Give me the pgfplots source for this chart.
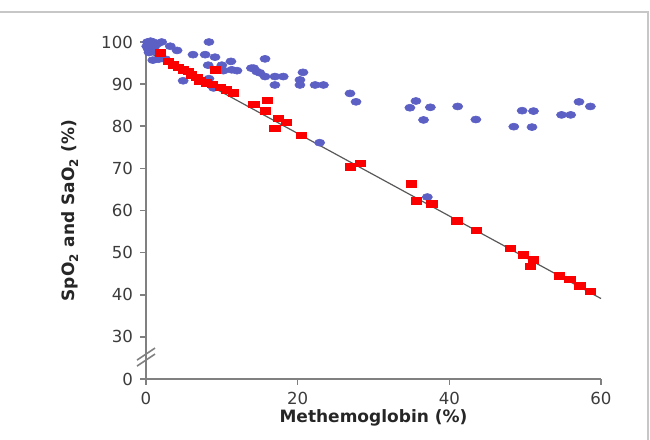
\documentclass[border=0pt]{standalone}
\usepackage{fontspec}
\setmainfont{DejaVu Sans}
\usepackage{pgfplots}
\pgfplotsset{compat=1.18}
\definecolor{dotblue}{RGB}{92,96,196}
\definecolor{sqred}{RGB}{250,0,0}
\definecolor{axgray}{RGB}{128,128,128}
\definecolor{ticktext}{RGB}{60,60,60}

% measured values: SpO2 (pulse oximetry) and SaO2 (co-oximetry) vs methemoglobin
\pgfplotstableread{
x y
0.2 100
0.5 99.2
0.9 100
0.3 98.3
1.0 98.8
1.5 99.6
0.7 97.8
1.3 97.7
0.1 99.0
0.6 100.2
1.2 99.1
0.4 97.5
0.9 95.7
1.6 95.9
2.6 95.9
2.07 100
3.2 99
4.1 98
4.9 90.8
6.2 97
7.8 97
8.3 100
9.1 96.4
8.2 94.5
10.0 94.5
11.2 95.4
11.3 93.4
10.2 93.2
12.0 93.2
13.9 93.8
14.6 93.0
8.3 91.3
8.9 89.1
15.7 96.0
14.2 93.8
15.0 92.7
15.7 91.8
17.0 91.8
18.1 91.8
17.0 89.8
20.7 92.8
20.3 91.0
20.3 89.8
22.3 89.8
23.4 89.8
26.9 87.8
27.7 85.8
22.9 76.1
35.6 86.0
34.8 84.4
37.5 84.5
36.6 81.5
41.1 84.7
43.5 81.6
49.6 83.7
51.1 83.6
48.5 79.9
50.9 79.8
54.8 82.7
56.0 82.7
57.1 85.8
58.6 84.7
37.1 63.2
}\spo

\pgfplotstableread{
x y
1.85 97.4
2.9 95.4
3.6 94.6
4.3 94.0
4.9 93.4
5.6 93.0
6.0 92.2
6.7 91.6
7.1 90.8
8.0 90.3
8.7 89.9
9.8 89.2
10.6 88.7
11.5 87.9
9.1 93.4
14.2 85.2
16.0 86.2
15.7 83.7
17.4 81.9
18.5 80.9
17.0 79.5
20.5 77.9
26.9 70.4
28.3 71.2
35.0 66.3
35.6 62.3
37.7 61.6
41.0 57.6
43.6 55.3
48.0 51.0
49.8 49.5
51.1 48.3
50.7 46.8
54.5 44.5
55.9 43.7
57.2 42.1
58.6 40.8
}\sao

\begin{document}
\begin{tikzpicture}
\useasboundingbox (-73pt,-30.5pt) rectangle (252pt,189.5pt);
\draw[black!22, line width=0.6pt] (-73pt,183.5pt) -- (251pt,183.5pt) -- (251pt,-30.5pt);
\begin{axis}[
  at={(0,0)}, anchor=south west,
  width=227.5pt, height=168.5pt, scale only axis,
  xmin=0, xmax=60, ymin=0, ymax=80,
  clip=false,
  y filter/.expression={y-20},
  axis lines=left,
  axis line style={axgray, line width=0.8pt, -},
  tick style={axgray, line width=0.8pt},
  tick align=outside, major tick length=3pt,
  xtick={0,20,40,60}, xticklabels={0,20,40,60},
  ytick={0,10,20,30,40,50,60,70,80},
  yticklabels={0,30,40,50,60,70,80,90,100},
  ticklabel style={font=\fontsize{8.3}{10}\selectfont, text=ticktext},
  every axis x label/.style={at={(axis description cs:0.5,-0.116)}, anchor=center},
  every axis y label/.style={at={(axis description cs:-0.167,0.5)}, anchor=center, rotate=90},
  label style={font=\fontsize{8.5}{10}\selectfont\bfseries, text=black!85},
  xlabel={Methemoglobin (\%)},
  ylabel={SpO\textsubscript{2} and SaO\textsubscript{2} (\%)},
]
\addplot[black!65, line width=0.6pt] coordinates {(0,97.9) (60,39.1)};
\addplot[only marks, color=dotblue, mark=*, mark size=1.75pt,
  mark options={xscale=1.45, draw=dotblue, fill=dotblue, line width=0.3pt}] table[x=x, y=y] {\spo};
\addplot[only marks, color=sqred, mark=square*, mark size=1.6pt,
  mark options={xscale=1.6, draw=sqred, fill=sqred, line width=0.3pt}] table[x=x, y=y] {\sao};
% axis break marks
\draw[axgray, line width=0.8pt] ([xshift=-4.5pt, yshift=-4.5pt]rel axis cs:0,0.065) -- ++(9pt,6pt);
\draw[axgray, line width=0.8pt] ([xshift=-4.5pt, yshift=-1.5pt]rel axis cs:0,0.065) -- ++(9pt,6pt);
\end{axis}
\end{tikzpicture}
\end{document}
